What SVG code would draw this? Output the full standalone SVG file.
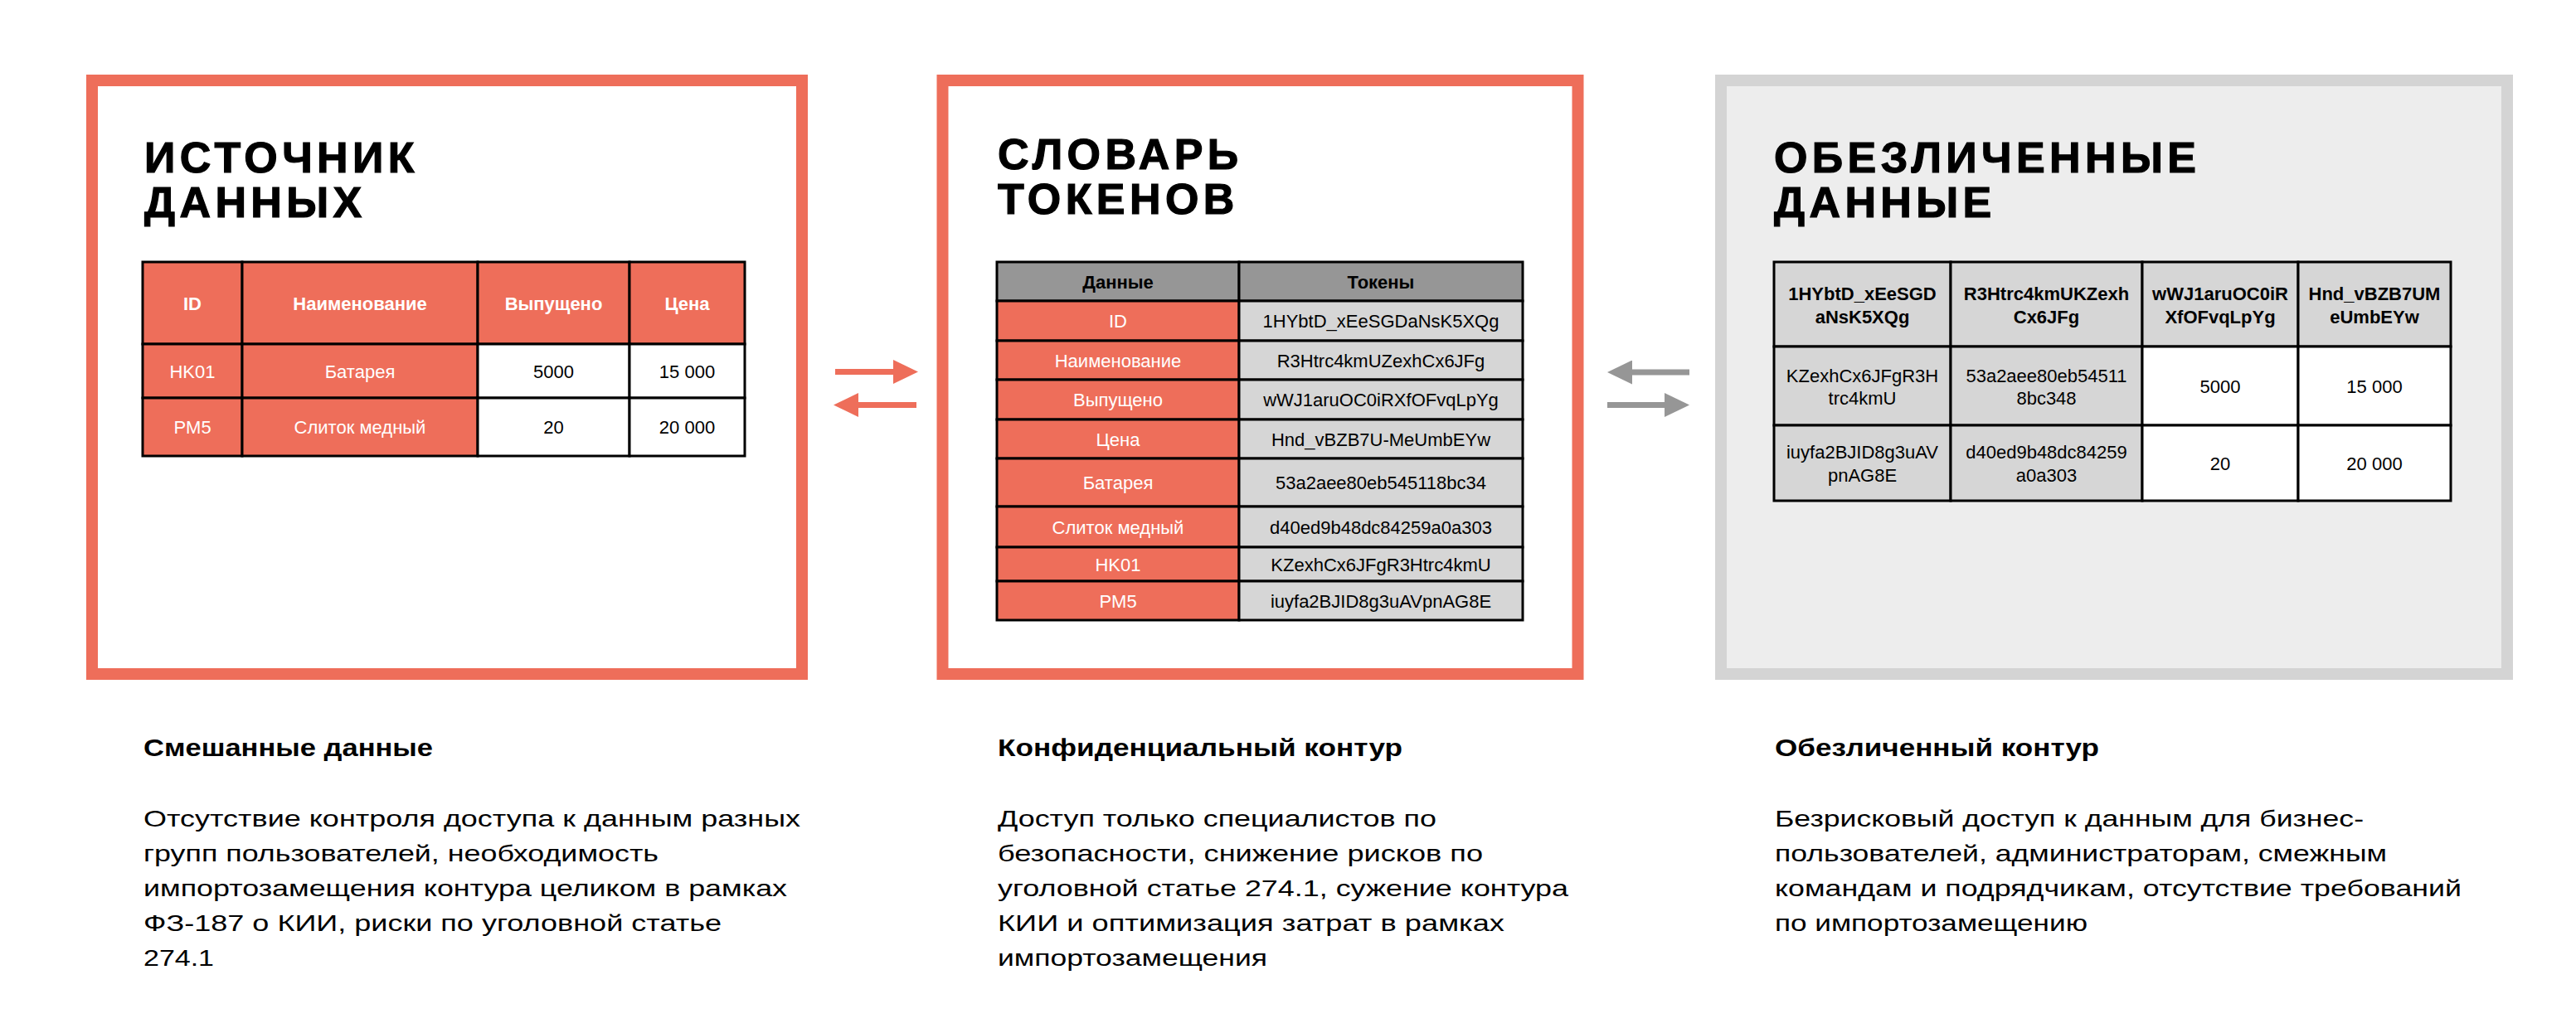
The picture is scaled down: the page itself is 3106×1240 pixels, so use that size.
<svg xmlns="http://www.w3.org/2000/svg" width="3106" height="1240" viewBox="0 0 3106 1240">
<defs>
<style>
text{font-family:"Liberation Sans",Arial,Helvetica,sans-serif}
.title{font-size:52px;font-weight:700;letter-spacing:5.4px;fill:#000;stroke:#000;stroke-width:1.2}
.th{font-size:22px;font-weight:700;text-anchor:middle}
.td{font-size:22px;text-anchor:middle}
.wt{fill:#fff}
.bk{fill:#000}
.cell{stroke:#000;stroke-width:3}
.coral{fill:#EE6E5A}
.lg{fill:#D6D6D6}
.dg{fill:#969696}
.wh{fill:#fff}
.caph{font-size:30px;font-weight:700;fill:#000}
.cap{font-size:28px;fill:#000}
</style>
<marker id="headC" markerUnits="userSpaceOnUse" markerWidth="30" markerHeight="29" refX="0" refY="14.5" orient="auto" viewBox="0 0 30 29">
<path d="M0,0 L30,14.5 L0,29 z" fill="#EE6E5A"/>
</marker>
<marker id="headG" markerUnits="userSpaceOnUse" markerWidth="30" markerHeight="29" refX="0" refY="14.5" orient="auto" viewBox="0 0 30 29">
<path d="M0,0 L30,14.5 L0,29 z" fill="#969696"/>
</marker>
</defs>
<rect width="3106" height="1240" fill="#fff"/>

<g id="node-source">
<rect x="111" y="97" width="856" height="716" fill="#fff" stroke="#EE6E5A" stroke-width="14"/>
<text class="title" x="174" y="208">ИСТОЧНИК</text>
<text class="title" x="174" y="262">ДАННЫХ</text>
<g id="table-source">
<rect class="cell coral" x="172" y="316" width="120" height="99"/>
<rect class="cell coral" x="292" y="316" width="284" height="99"/>
<rect class="cell coral" x="576" y="316" width="183" height="99"/>
<rect class="cell coral" x="759" y="316" width="139" height="99"/>
<rect class="cell coral" x="172" y="415" width="120" height="65"/>
<rect class="cell coral" x="292" y="415" width="284" height="65"/>
<rect class="cell wh" x="576" y="415" width="183" height="65"/>
<rect class="cell wh" x="759" y="415" width="139" height="65"/>
<rect class="cell coral" x="172" y="480" width="120" height="70"/>
<rect class="cell coral" x="292" y="480" width="284" height="70"/>
<rect class="cell wh" x="576" y="480" width="183" height="70"/>
<rect class="cell wh" x="759" y="480" width="139" height="70"/>
<text class="th wt" x="232" y="374">ID</text>
<text class="th wt" x="434" y="374">Наименование</text>
<text class="th wt" x="667.5" y="374">Выпущено</text>
<text class="th wt" x="828.5" y="374">Цена</text>
<text class="td wt" x="232" y="456">HK01</text>
<text class="td wt" x="434" y="456">Батарея</text>
<text class="td bk" x="667.5" y="456">5000</text>
<text class="td bk" x="828.5" y="456">15 000</text>
<text class="td wt" x="232" y="523">PM5</text>
<text class="td wt" x="434" y="523">Слиток медный</text>
<text class="td bk" x="667.5" y="523">20</text>
<text class="td bk" x="828.5" y="523">20 000</text>
</g>
</g>

<g id="node-dictionary">
<rect x="1136.5" y="97" width="766" height="716" fill="#fff" stroke="#EE6E5A" stroke-width="14"/>
<text class="title" x="1203" y="204">СЛОВАРЬ</text>
<text class="title" x="1203" y="258">ТОКЕНОВ</text>
<g id="table-dictionary">
<rect class="cell dg" x="1202" y="316" width="292" height="47"/>
<rect class="cell dg" x="1494" y="316" width="342" height="47"/>
<rect class="cell coral" x="1202" y="363" width="292" height="48"/>
<rect class="cell lg" x="1494" y="363" width="342" height="48"/>
<rect class="cell coral" x="1202" y="411" width="292" height="47"/>
<rect class="cell lg" x="1494" y="411" width="342" height="47"/>
<rect class="cell coral" x="1202" y="458" width="292" height="48"/>
<rect class="cell lg" x="1494" y="458" width="342" height="48"/>
<rect class="cell coral" x="1202" y="506" width="292" height="47"/>
<rect class="cell lg" x="1494" y="506" width="342" height="47"/>
<rect class="cell coral" x="1202" y="553" width="292" height="58"/>
<rect class="cell lg" x="1494" y="553" width="342" height="58"/>
<rect class="cell coral" x="1202" y="611" width="292" height="49"/>
<rect class="cell lg" x="1494" y="611" width="342" height="49"/>
<rect class="cell coral" x="1202" y="660" width="292" height="41"/>
<rect class="cell lg" x="1494" y="660" width="342" height="41"/>
<rect class="cell coral" x="1202" y="701" width="292" height="47"/>
<rect class="cell lg" x="1494" y="701" width="342" height="47"/>
<text class="th bk" x="1348" y="348">Данные</text>
<text class="th bk" x="1665" y="348">Токены</text>
<text class="td wt" x="1348" y="395">ID</text>
<text class="td bk" x="1665" y="395">1HYbtD_xEeSGDaNsK5XQg</text>
<text class="td wt" x="1348" y="442.5">Наименование</text>
<text class="td bk" x="1665" y="442.5">R3Htrc4kmUZexhCx6JFg</text>
<text class="td wt" x="1348" y="490">Выпущено</text>
<text class="td bk" x="1665" y="490">wWJ1aruOC0iRXfOFvqLpYg</text>
<text class="td wt" x="1348" y="537.5">Цена</text>
<text class="td bk" x="1665" y="537.5">Hnd_vBZB7U-MeUmbEYw</text>
<text class="td wt" x="1348" y="590">Батарея</text>
<text class="td bk" x="1665" y="590">53a2aee80eb545118bc34</text>
<text class="td wt" x="1348" y="643.5">Слиток медный</text>
<text class="td bk" x="1665" y="643.5">d40ed9b48dc84259a0a303</text>
<text class="td wt" x="1348" y="688.5">HK01</text>
<text class="td bk" x="1665" y="688.5">KZexhCx6JFgR3Htrc4kmU</text>
<text class="td wt" x="1348" y="732.5">PM5</text>
<text class="td bk" x="1665" y="732.5">iuyfa2BJID8g3uAVpnAG8E</text>
</g>
</g>

<g id="node-anonymized">
<rect x="2075" y="97" width="948" height="716" fill="#EDEDED" stroke="#D4D4D4" stroke-width="14"/>
<text class="title" x="2139" y="208">ОБЕЗЛИЧЕННЫЕ</text>
<text class="title" x="2139" y="262">ДАННЫЕ</text>
<g id="table-anonymized">
<rect class="cell lg" x="2139" y="316" width="213" height="102"/>
<rect class="cell lg" x="2352" y="316" width="231" height="102"/>
<rect class="cell lg" x="2583" y="316" width="188" height="102"/>
<rect class="cell lg" x="2771" y="316" width="184" height="102"/>
<rect class="cell lg" x="2139" y="418" width="213" height="95"/>
<rect class="cell lg" x="2352" y="418" width="231" height="95"/>
<rect class="cell wh" x="2583" y="418" width="188" height="95"/>
<rect class="cell wh" x="2771" y="418" width="184" height="95"/>
<rect class="cell lg" x="2139" y="513" width="213" height="91"/>
<rect class="cell lg" x="2352" y="513" width="231" height="91"/>
<rect class="cell wh" x="2583" y="513" width="188" height="91"/>
<rect class="cell wh" x="2771" y="513" width="184" height="91"/>
<text class="th bk" x="2245.5" y="362">1HYbtD_xEeSGD</text>
<text class="th bk" x="2245.5" y="390">aNsK5XQg</text>
<text class="th bk" x="2467.5" y="362">R3Htrc4kmUKZexh</text>
<text class="th bk" x="2467.5" y="390">Cx6JFg</text>
<text class="th bk" x="2677" y="362">wWJ1aruOC0iR</text>
<text class="th bk" x="2677" y="390">XfOFvqLpYg</text>
<text class="th bk" x="2863" y="362">Hnd_vBZB7UM</text>
<text class="th bk" x="2863" y="390">eUmbEYw</text>
<text class="td bk" x="2245.5" y="461">KZexhCx6JFgR3H</text>
<text class="td bk" x="2245.5" y="488">trc4kmU</text>
<text class="td bk" x="2467.5" y="461">53a2aee80eb54511</text>
<text class="td bk" x="2467.5" y="488">8bc348</text>
<text class="td bk" x="2677" y="473.5">5000</text>
<text class="td bk" x="2863" y="473.5">15 000</text>
<text class="td bk" x="2245.5" y="553">iuyfa2BJID8g3uAV</text>
<text class="td bk" x="2245.5" y="581">pnAG8E</text>
<text class="td bk" x="2467.5" y="553">d40ed9b48dc84259</text>
<text class="td bk" x="2467.5" y="581">a0a303</text>
<text class="td bk" x="2677" y="566.5">20</text>
<text class="td bk" x="2863" y="566.5">20 000</text>
</g>
</g>

<g id="connectors" stroke-width="7" fill="none">
<line x1="1007" y1="448.5" x2="1077" y2="448.5" stroke="#EE6E5A" marker-end="url(#headC)"/>
<line x1="1105" y1="488.5" x2="1035" y2="488.5" stroke="#EE6E5A" marker-end="url(#headC)"/>
<line x1="2037" y1="449" x2="1968" y2="449" stroke="#969696" marker-end="url(#headG)"/>
<line x1="1938" y1="488.5" x2="2007" y2="488.5" stroke="#969696" marker-end="url(#headG)"/>
</g>

<g id="caption-source">
<text class="caph" x="173" y="912" textLength="349" lengthAdjust="spacingAndGlyphs">Смешанные данные</text>
<text class="cap" x="173" y="997" textLength="792" lengthAdjust="spacingAndGlyphs">Отсутствие контроля доступа к данным разных</text>
<text class="cap" x="173" y="1039" textLength="621" lengthAdjust="spacingAndGlyphs">групп пользователей, необходимость</text>
<text class="cap" x="173" y="1081" textLength="776" lengthAdjust="spacingAndGlyphs">импортозамещения контура целиком в рамках</text>
<text class="cap" x="173" y="1123" textLength="697" lengthAdjust="spacingAndGlyphs">ФЗ-187 о КИИ, риски по уголовной статье</text>
<text class="cap" x="173" y="1165" textLength="85" lengthAdjust="spacingAndGlyphs">274.1</text>
</g>
<g id="caption-dictionary">
<text class="caph" x="1203" y="912" textLength="488" lengthAdjust="spacingAndGlyphs">Конфиденциальный контур</text>
<text class="cap" x="1203" y="997" textLength="529" lengthAdjust="spacingAndGlyphs">Доступ только специалистов по</text>
<text class="cap" x="1203" y="1039" textLength="585" lengthAdjust="spacingAndGlyphs">безопасности, снижение рисков по</text>
<text class="cap" x="1203" y="1081" textLength="688" lengthAdjust="spacingAndGlyphs">уголовной статье 274.1, сужение контура</text>
<text class="cap" x="1203" y="1123" textLength="611" lengthAdjust="spacingAndGlyphs">КИИ и оптимизация затрат в рамках</text>
<text class="cap" x="1203" y="1165" textLength="325" lengthAdjust="spacingAndGlyphs">импортозамещения</text>
</g>
<g id="caption-anonymized">
<text class="caph" x="2140" y="912" textLength="391" lengthAdjust="spacingAndGlyphs">Обезличенный контур</text>
<text class="cap" x="2140" y="997" textLength="710" lengthAdjust="spacingAndGlyphs">Безрисковый доступ к данным для бизнес-</text>
<text class="cap" x="2140" y="1039" textLength="738" lengthAdjust="spacingAndGlyphs">пользователей, администраторам, смежным</text>
<text class="cap" x="2140" y="1081" textLength="828" lengthAdjust="spacingAndGlyphs">командам и подрядчикам, отсутствие требований</text>
<text class="cap" x="2140" y="1123" textLength="377" lengthAdjust="spacingAndGlyphs">по импортозамещению</text>
</g>
</svg>
